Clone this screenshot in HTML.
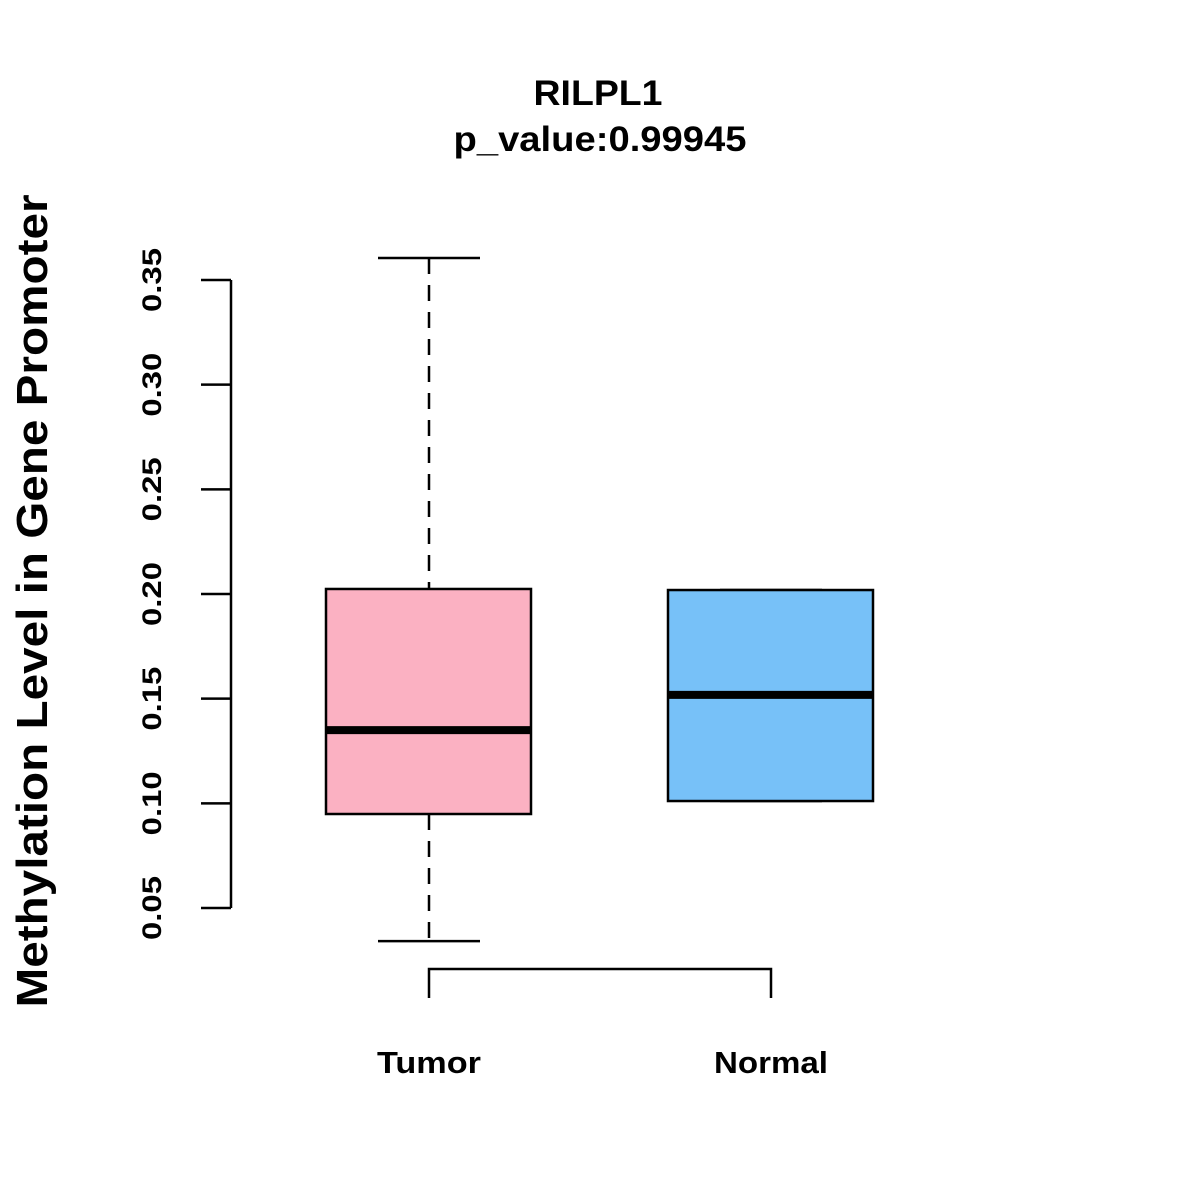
<!DOCTYPE html>
<html><head><meta charset="utf-8"><style>
html,body{margin:0;padding:0;background:#fff}
svg{display:block}
text{font-family:"Liberation Sans",Arial,sans-serif;font-weight:bold;fill:#000}
</style></head><body>
<svg id="chart" width="1200" height="1200" viewBox="0 0 1200 1200">
<text x="598" y="105" font-size="35" text-anchor="middle" textLength="129" lengthAdjust="spacingAndGlyphs">RILPL1</text>
<text x="600" y="151" font-size="35" text-anchor="middle" textLength="293" lengthAdjust="spacingAndGlyphs">p_value:0.99945</text>
<text transform="translate(47,601) rotate(-90)" font-size="44" text-anchor="middle" textLength="813" lengthAdjust="spacingAndGlyphs">Methylation Level in Gene Promoter</text>
<g id="axis"></g>
<g id="boxes"></g>
<g id="bracket"></g>
</svg>
<script>
const categories = ["Tumor", "Normal"];
const whiskerLow = [0.0342, 0.1011];
const q1 = [0.0949, 0.1011];
const medians = [0.135, 0.1518];
const q3 = [0.2024, 0.2019];
const whiskerHigh = [0.3605, 0.2019];
const colors = ["#FBB1C2", "#77C1F8"];
const ticks = [0.05, 0.10, 0.15, 0.20, 0.25, 0.30, 0.35];
const tickLabels = ["0.05", "0.10", "0.15", "0.20", "0.25", "0.30", "0.35"];

const labelWidths = [104, 114];
const NS = "http://www.w3.org/2000/svg";
function y(v){ return 908 - (v - 0.05) / 0.05 * 104.667; }
function x(i){ return 429 + i * 342; }
function mk(tag, attrs, parent){
  const e = document.createElementNS(NS, tag);
  for (const k in attrs) e.setAttribute(k, attrs[k]);
  parent.appendChild(e); return e;
}
const axis = document.getElementById("axis");
const axisLine = mk("line", {x1:231, x2:231, y1:y(ticks[0]), y2:y(ticks[ticks.length-1]), stroke:"#000", "stroke-width":2.5}, axis);


ticks.forEach((t, i) => {
  const tk = mk("line", {x1:201, x2:231, y1:y(t), y2:y(t), stroke:"#000", "stroke-width":2.5}, axis);
  
  
  const lb = mk("text", {transform:`translate(161,${y(t)}) rotate(-90)`, "font-size":27, "text-anchor":"middle", textLength:64, lengthAdjust:"spacingAndGlyphs"}, axis);
  lb.textContent = tickLabels[i];
  
  
});
const boxes = document.getElementById("boxes");
categories.forEach((c, i) => {
  const cx = x(i);
  const g = mk("g", {}, boxes);
  
  
  if (whiskerHigh[i] > q3[i]) {
    mk("line", {x1:cx, x2:cx, y1:y(whiskerHigh[i]), y2:y(q3[i]), stroke:"#000", "stroke-width":2.5, "stroke-dasharray":"16,11"}, g);
  }
  if (whiskerLow[i] < q1[i]) {
    mk("line", {x1:cx, x2:cx, y1:y(q1[i]), y2:y(whiskerLow[i]), stroke:"#000", "stroke-width":2.5, "stroke-dasharray":"16,11"}, g);
  }
  mk("line", {x1:cx-51, x2:cx+51, y1:y(whiskerHigh[i]), y2:y(whiskerHigh[i]), stroke:"#000", "stroke-width":2.5}, g);
  mk("line", {x1:cx-51, x2:cx+51, y1:y(whiskerLow[i]), y2:y(whiskerLow[i]), stroke:"#000", "stroke-width":2.5}, g);
  mk("rect", {x:cx-103, y:y(q3[i]), width:205, height:y(q1[i])-y(q3[i]), fill:colors[i], stroke:"#000", "stroke-width":2.5}, g);
  mk("line", {x1:cx-103, x2:cx+102, y1:y(medians[i]), y2:y(medians[i]), stroke:"#000", "stroke-width":8}, g);
  const lb = mk("text", {x:cx, y:1073, "font-size":31, "text-anchor":"middle", textLength:labelWidths[i], lengthAdjust:"spacingAndGlyphs"}, boxes);
  lb.textContent = c;
  
  
});
const br = document.getElementById("bracket");
mk("path", {d:`M${x(0)},998 L${x(0)},969 L${x(1)},969 L${x(1)},998`, fill:"none", stroke:"#000", "stroke-width":2.5}, br);
</script>
</body></html>
